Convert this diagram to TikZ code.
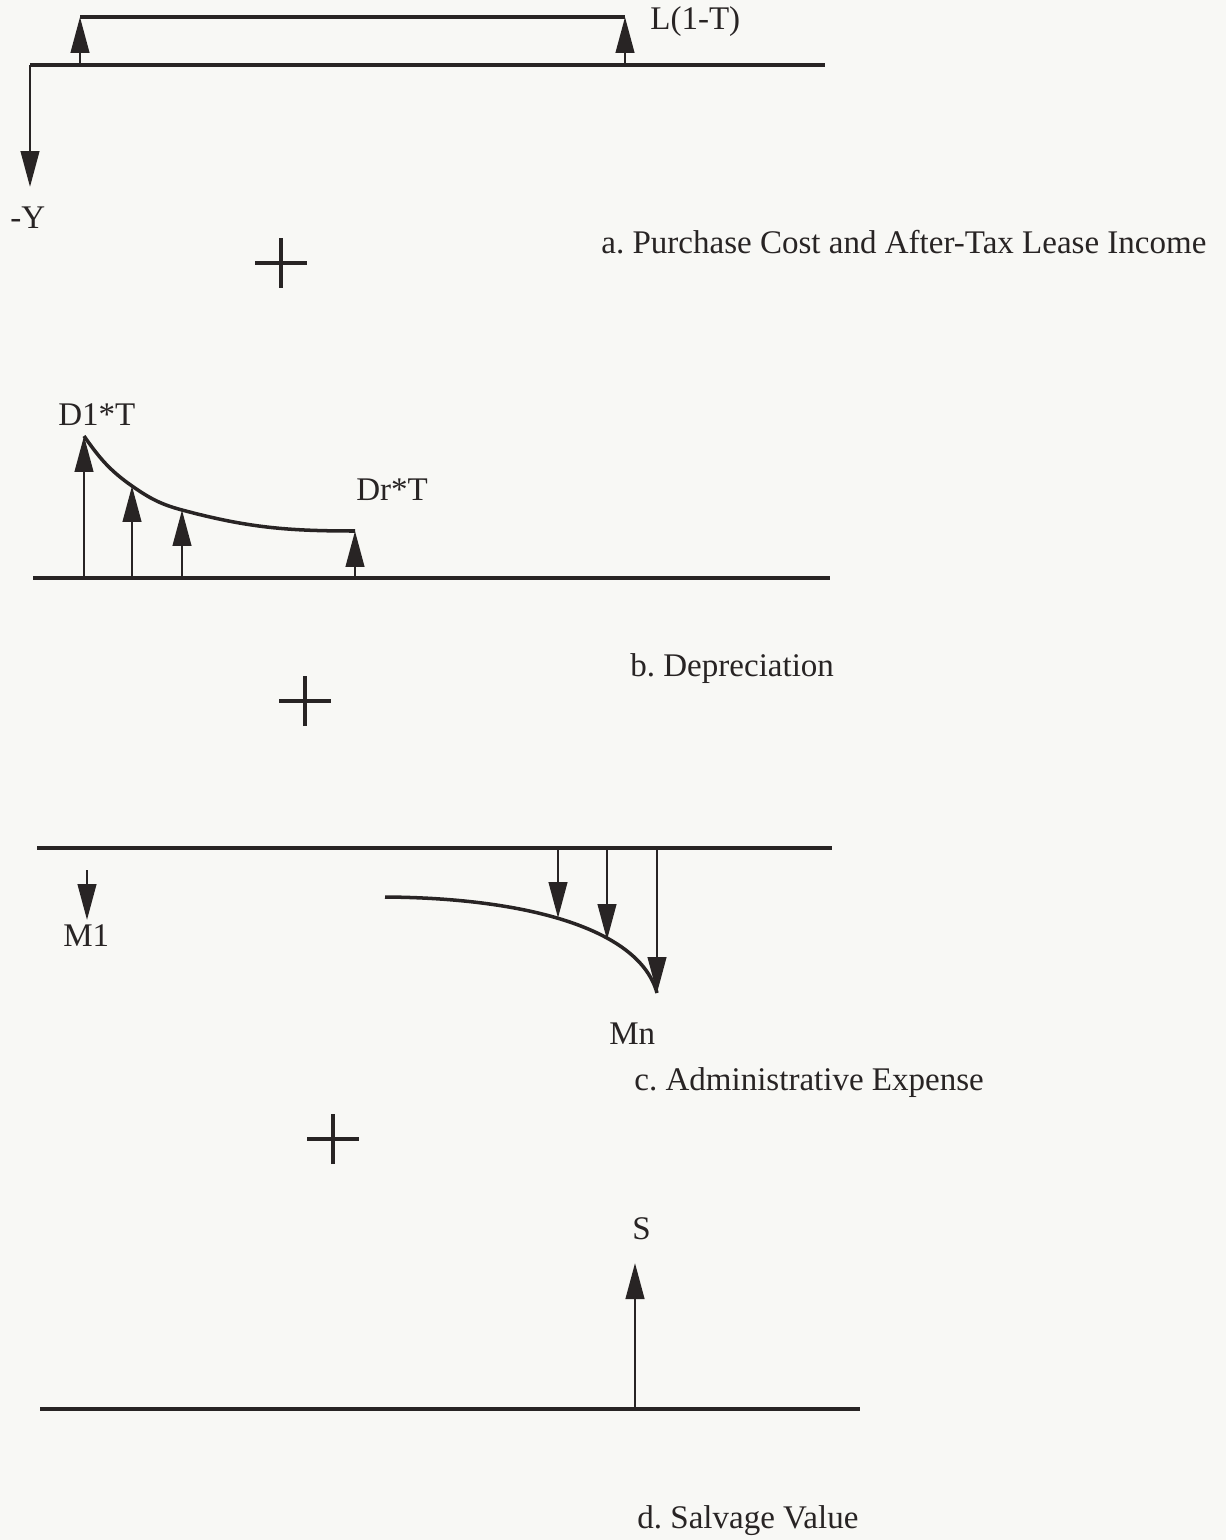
\documentclass[tikz,border=0pt]{standalone}
\usepackage{fontspec}
\setmainfont{Liberation Serif}
\usetikzlibrary{arrows.meta}
\definecolor{ink}{RGB}{40,36,36}
\definecolor{paper}{RGB}{248,248,245}

\begin{document}
\begin{tikzpicture}[x=0.02cm,y=0.02cm,
  axis/.style={ink,line width=2.1pt},
  flow/.style={-{Triangle[length=0.72cm,width=0.37cm]},ink,line width=1.6pt},
  curve/.style={ink,line width=2pt},
  plusmark/.style={ink,line width=2.6pt},
  lbl/.style={text=ink,font=\fontsize{18.8}{22}\selectfont\frenchspacing,
              inner sep=0pt,anchor=west}
]
\fill[paper] (0,0) rectangle (1226,-1540);
\useasboundingbox (0,0) rectangle (1226,-1540);

% a. purchase cost and lease income
\coordinate (a0)   at (30,-65);
\coordinate (aend) at (825,-65);
\coordinate (ay)   at (30,-187);
\coordinate (al1)  at (80,-65);
\coordinate (al1t) at (80,-17);
\coordinate (aln)  at (625,-65);
\coordinate (alnt) at (625,-17);
\draw[axis] (a0) -- (aend);
\draw[flow] (a0) -- (ay);
\draw[flow] (al1) -- (al1t);
\draw[flow] (aln) -- (alnt);
\draw[axis] (al1t) -- (alnt);
\node[lbl] (lblY) at (10,-218) {-Y};
\node[lbl] (lblL) at (650,-22) {L(1-T)};
\node[lbl] (capA) at (601,-242) {a. Purchase Cost and After-Tax Lease Income};

\coordinate (plusA) at (281,-263);
\draw[plusmark] (plusA) +(-26,0) -- +(26,0) (plusA) +(0,-25) -- +(0,25);

% b. depreciation
\coordinate (b0)   at (33,-578);
\coordinate (bend) at (830,-578);
\coordinate (b1)   at (84,-578);
\coordinate (b1t)  at (84,-436);
\coordinate (b2)   at (132,-578);
\coordinate (b2t)  at (132,-486);
\coordinate (b3)   at (182,-578);
\coordinate (b3t)  at (182,-510);
\coordinate (bn)   at (355,-578);
\coordinate (bnt)  at (355,-531);
\draw[axis] (b0) -- (bend);
\draw[flow] (b1) -- (b1t);
\draw[flow] (b2) -- (b2t);
\draw[flow] (b3) -- (b3t);
\draw[flow] (bn) -- (bnt);
\draw[curve] (b1t) to[out=-55,in=145] (b2t) to[out=-35,in=165] (b3t)
  to[out=-15,in=180] (bnt);
\node[lbl] (lblD1) at (58,-415) {D1*T};
\node[lbl] (lblDr) at (356,-490) {Dr*T};
\node[lbl] (capB) at (630,-669) {b. Depreciation};

\coordinate (plusB) at (305,-701);
\draw[plusmark] (plusB) +(-26,0) -- +(26,0) (plusB) +(0,-25) -- +(0,25);

% c. administrative expense
\coordinate (c0)   at (37,-848);
\coordinate (cend) at (832,-848);
\coordinate (cm1)  at (87,-870);
\coordinate (cm1t) at (87,-920);
\coordinate (cs)   at (385,-897);
\coordinate (c1)   at (558,-848);
\coordinate (c1t)  at (558,-918);
\coordinate (c2)   at (607,-848);
\coordinate (c2t)  at (607,-940);
\coordinate (c3)   at (657,-848);
\coordinate (c3t)  at (657,-993);
\draw[axis] (c0) -- (cend);
\draw[flow] (cm1) -- (cm1t);
\draw[flow] (c1) -- (c1t);
\draw[flow] (c2) -- (c2t);
\draw[flow] (c3) -- (c3t);
\draw[curve] (cs) .. controls (530,-898) and (640,-930) .. (c3t);
\node[lbl] (lblM1) at (63,-936) {M1};
\node[lbl] (lblMn) at (609,-1034) {Mn};
\node[lbl] (capC) at (634,-1083) {c. Administrative Expense};

\coordinate (plusC) at (333,-1139);
\draw[plusmark] (plusC) +(-26,0) -- +(26,0) (plusC) +(0,-25) -- +(0,25);

% d. salvage value
\coordinate (d0)   at (40,-1409);
\coordinate (dend) at (860,-1409);
\coordinate (ds)   at (635,-1409);
\coordinate (dst)  at (635,-1263);
\draw[axis] (d0) -- (dend);
\draw[flow] (ds) -- (dst);
\node[lbl] (lblS) at (632,-1229) {S};
\node[lbl] (capD) at (637,-1521) {d. Salvage Value};
\end{tikzpicture}
\end{document}
